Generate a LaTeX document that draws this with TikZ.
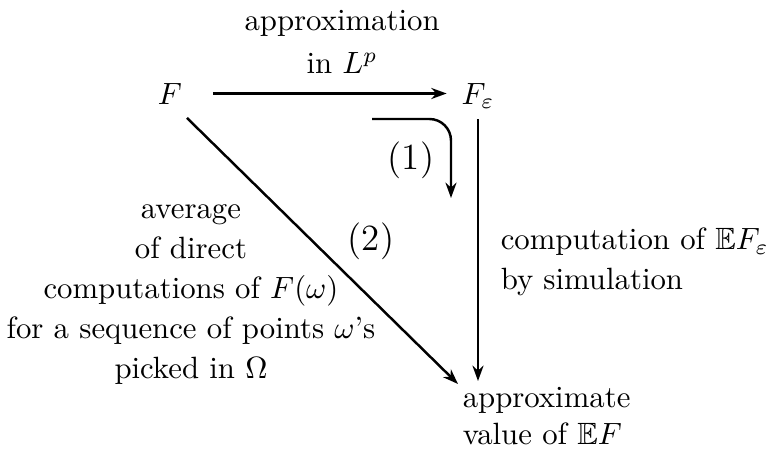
\documentclass[tikz,border=0pt]{standalone}
\usepackage{amsmath,amssymb}
\usetikzlibrary{arrows.meta,positioning,calc}
\tikzset{
  cdArrow/.style = {-{Stealth[length=5pt,width=3.6pt]}, line width=0.8pt},
  cdText/.style  = {align=center, inner sep=2pt},
  cdTag/.style   = {font=\large, inner sep=1pt},
}
\begin{document}
\begin{tikzpicture}[x=0.325pt,y=-0.325pt]
  \useasboundingbox (0,0) rectangle (777,449);
  \node[anchor=base](F) at (170,104){$F$};
  \node[anchor=base](Fe) at (478,104){$F_\varepsilon$};
  \node[anchor=north west,align=left,inner sep=2pt](res) at (456,381)
      {approximate\\value of $\mathbb{E}F$};
  \node[cdText](avg) at (191,295)
      {average\\[1pt]of direct\\[1pt]computations of $F(\omega)$\\[1pt]
       for a sequence of points $\omega$'s\\[1pt]picked in $\Omega$};
  \node[anchor=west,align=left,inner sep=2pt](sim) at (494,262)
      {computation of $\mathbb{E}F_\varepsilon$\\[1pt]by simulation};
  \node[cdTag](t1) at (411,160){(1)};
  \node[cdTag](t2) at (371,241){(2)};
  \coordinate (c1a) at (372,119);
  \coordinate (c1b) at (451,119);
  \coordinate (c1c) at (451,198);
  \draw[cdArrow]($(F.east)+(20,0)$)--node[cdText,above,xshift=4pt,yshift=4pt]
      {approximation\\[2pt]in $L^p$}($(F.east -| Fe.west)+(-4,0)$);
  \draw[cdArrow,rounded corners=7pt](c1a)--(c1b)--(c1c);
  \draw[cdArrow](Fe.south)--(Fe.south |- res.north);
  \draw[cdArrow]([shift={(-6,3)}]F.south east)--([shift={(2,3)}]res.north west);
\end{tikzpicture}
\end{document}
